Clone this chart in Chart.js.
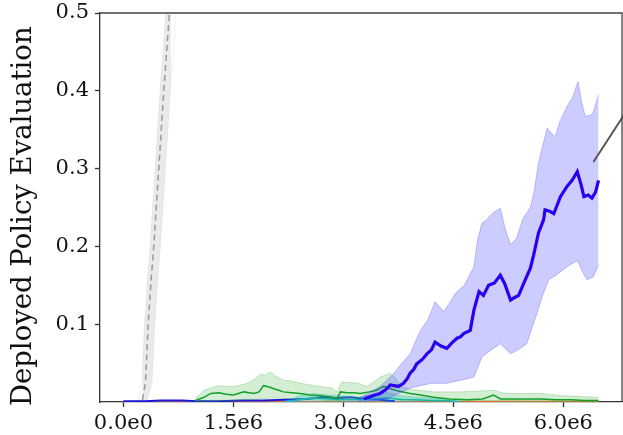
<!DOCTYPE html>
<html>
<head>
<meta charset="utf-8">
<script src="https://cdn.jsdelivr.net/npm/chart.js@4"></script>
<style>
  body { margin: 0; background: #fff; }
  #wrap { width: 623px; height: 435px; }
</style>
</head>
<body>
<div id="wrap"><canvas id="evalChart"></canvas></div>
<script>
// x values are in millions of steps
var xTicks = [0, 1.5, 3.0, 4.5, 6.0];
var yTicks = [0.1, 0.2, 0.3, 0.4, 0.5];

// gray dashed reference (rises out of the plot early)
var grayX = [0, 0.2, 0.255, 0.3, 0.337, 0.38, 0.414, 0.436, 0.482, 0.55, 0.627, 0.7];
var grayY = [0, 0, 0.001, 0.025, 0.1, 0.16, 0.2, 0.234, 0.3, 0.4, 0.5, 0.6];
var grayHiX = [0.15, 0.2, 0.25, 0.287, 0.33, 0.364, 0.386, 0.432, 0.5, 0.577, 0.65];
var grayHiY = [0, 0.001, 0.025, 0.1, 0.16, 0.2, 0.234, 0.3, 0.4, 0.5, 0.6];
var grayLoX = [0.26, 0.32, 0.39, 0.427, 0.47, 0.504, 0.526, 0.572, 0.64, 0.717, 0.79];
var grayLoY = [0, 0.001, 0.025, 0.1, 0.16, 0.2, 0.234, 0.3, 0.4, 0.5, 0.6];

// blue (main) run
var blueX = [3.28, 3.4, 3.5, 3.58, 3.64, 3.75, 3.82, 3.87, 3.91, 3.96, 4.0, 4.08, 4.14, 4.2, 4.25, 4.33, 4.41, 4.48, 4.55, 4.6, 4.64, 4.73, 4.78, 4.85, 4.91, 4.98, 5.06, 5.14, 5.2, 5.28, 5.33, 5.39, 5.48, 5.55, 5.59, 5.66, 5.73, 5.75, 5.82, 5.87, 5.96, 6.05, 6.12, 6.19, 6.24, 6.28, 6.34, 6.39, 6.44, 6.48];
var blueY = [0.004, 0.008, 0.011, 0.016, 0.022, 0.02, 0.024, 0.03, 0.037, 0.042, 0.049, 0.055, 0.062, 0.067, 0.077, 0.072, 0.069, 0.076, 0.082, 0.084, 0.088, 0.092, 0.118, 0.142, 0.137, 0.150, 0.153, 0.163, 0.152, 0.131, 0.134, 0.137, 0.157, 0.172, 0.187, 0.217, 0.234, 0.247, 0.245, 0.242, 0.264, 0.277, 0.285, 0.296, 0.28, 0.264, 0.266, 0.262, 0.27, 0.285];
var blueHiX = [3.2, 3.5, 3.69, 3.8, 3.91, 4.05, 4.15, 4.25, 4.37, 4.45, 4.53, 4.65, 4.78, 4.83, 4.89, 4.95, 5.05, 5.14, 5.2, 5.28, 5.36, 5.45, 5.55, 5.6, 5.66, 5.72, 5.78, 5.84, 5.89, 5.95, 6.05, 6.12, 6.2, 6.25, 6.3, 6.4, 6.48];
var blueHiY = [0.004, 0.02, 0.037, 0.05, 0.062, 0.092, 0.105, 0.129, 0.116, 0.128, 0.14, 0.15, 0.174, 0.208, 0.23, 0.234, 0.244, 0.249, 0.225, 0.202, 0.21, 0.236, 0.25, 0.27, 0.307, 0.33, 0.352, 0.345, 0.341, 0.36, 0.38, 0.39, 0.412, 0.385, 0.367, 0.37, 0.395];
var blueLoX = [3.2, 3.6, 3.91, 4.2, 4.41, 4.6, 4.78, 4.89, 5.0, 5.14, 5.28, 5.4, 5.5, 5.64, 5.72, 5.8, 5.9, 6.05, 6.19, 6.25, 6.32, 6.41, 6.48];
var blueLoY = [0, 0.004, 0.018, 0.024, 0.024, 0.028, 0.032, 0.058, 0.066, 0.075, 0.062, 0.068, 0.075, 0.114, 0.138, 0.157, 0.163, 0.174, 0.182, 0.17, 0.157, 0.161, 0.176];

// green run
var greenX = [0.98, 1.1, 1.19, 1.3, 1.4, 1.5, 1.64, 1.72, 1.78, 1.85, 1.91, 2.0, 2.05, 2.12, 2.18, 2.3, 2.41, 2.55, 2.7, 2.85, 2.91, 2.96, 3.05, 3.15, 3.23, 3.35, 3.45, 3.55, 3.64, 3.75, 3.91, 4.05, 4.23, 4.45, 4.69, 4.9, 5.05, 5.14, 5.4, 5.69, 5.9, 6.1, 6.3, 6.48];
var greenY = [0.002, 0.006, 0.011, 0.012, 0.01, 0.009, 0.013, 0.012, 0.011, 0.013, 0.021, 0.019, 0.017, 0.015, 0.013, 0.012, 0.011, 0.009, 0.008, 0.006, 0.004, 0.013, 0.012, 0.012, 0.011, 0.013, 0.015, 0.02, 0.017, 0.014, 0.011, 0.009, 0.006, 0.004, 0.003, 0.004, 0.009, 0.004, 0.004, 0.004, 0.003, 0.003, 0.002, 0.002];
var greenHiX = [0.98, 1.1, 1.28, 1.4, 1.5, 1.6, 1.69, 1.8, 1.87, 1.93, 2.0, 2.1, 2.18, 2.3, 2.41, 2.55, 2.68, 2.85, 2.91, 2.98, 3.1, 3.2, 3.32, 3.42, 3.5, 3.64, 3.72, 3.78, 3.95, 4.23, 4.6, 5.05, 5.2, 5.69, 6.0, 6.48];
var greenHiY = [0.005, 0.015, 0.021, 0.02, 0.02, 0.022, 0.024, 0.03, 0.036, 0.034, 0.039, 0.032, 0.028, 0.027, 0.024, 0.022, 0.02, 0.018, 0.013, 0.026, 0.025, 0.024, 0.02, 0.026, 0.032, 0.037, 0.03, 0.02, 0.016, 0.013, 0.013, 0.015, 0.011, 0.011, 0.008, 0.006];
var greenLoX = [0.98, 1.5, 2.0, 2.5, 2.9, 3.0, 3.5, 4.0, 4.5, 5.0, 5.5, 6.0, 6.48];
var greenLoY = [0, 0.002, 0.005, 0.004, 0.001, 0.003, 0.005, 0.002, 0.001, 0.002, 0.001, 0.001, 0];

// small runs that stay near zero
var cyanX = [2.2, 2.4, 2.6, 2.8, 3.0, 3.2, 3.4, 3.6, 3.8, 4.0, 4.2, 4.4, 4.6];
var cyanHiY = [0, 0.008, 0.011, 0.009, 0.008, 0.006, 0.01, 0.012, 0.008, 0.006, 0.005, 0.004, 0];
var cyanY = [0, 0.003, 0.005, 0.004, 0.003, 0.003, 0.004, 0.005, 0.003, 0.003, 0.002, 0.002, 0];
var navyX = [0, 0.3, 0.5, 0.8, 1.0, 1.3, 1.6, 1.9, 2.2, 2.5, 2.7, 2.9, 3.1, 3.3, 3.5, 3.7];
var navyY = [0.001, 0.001, 0.002, 0.002, 0.001, 0.001, 0.002, 0.002, 0.003, 0.004, 0.006, 0.005, 0.006, 0.004, 0.003, 0.001];
var orangeX = [0, 1.0, 2.0, 3.0, 4.0, 5.0, 6.48];
var orangeY = [0.0005, 0.0008, 0.0005, 0.0007, 0.0005, 0.0008, 0.0006];

// pointer line at the right edge
var pointerX = [6.41, 6.82];
var pointerY = [0.3085, 0.368];

function pts(xs, ys) {
    return xs.map(function (x, i) { return {x: x * 1e6, y: ys[i]}; });
}

function line(data, color, width, extra) {
    var ds = {
        data: data,
        borderColor: color,
        borderWidth: width,
        pointRadius: 0,
        tension: 0,
        fill: false
    };
    for (var k in extra) ds[k] = extra[k];
    return ds;
}

var serif = "'DejaVu Serif', serif";

var datasets = [
    line(pts(pointerX, pointerY), '#555555', 2, {clip: false}),
    line(pts(blueX, blueY), '#2a00f0', 3.2),
    line(pts(blueHiX, blueHiY), 'rgba(90,90,255,0.35)', 1, {fill: '+1', backgroundColor: 'rgba(40,40,255,0.24)'}),
    line(pts(blueLoX, blueLoY), 'rgba(90,90,255,0.35)', 1),
    line(pts(greenX, greenY), '#12a02a', 1.5),
    line(pts(greenHiX, greenHiY), 'rgba(40,170,40,0.25)', 1, {fill: '+1', backgroundColor: 'rgba(40,170,40,0.2)'}),
    line(pts(greenLoX, greenLoY), 'rgba(40,170,40,0.25)', 1),
    line(pts(cyanX, cyanY), '#17becf', 1.5),
    line(pts(cyanX, cyanHiY), 'rgba(23,190,207,0.3)', 1, {fill: 'origin', backgroundColor: 'rgba(23,190,207,0.3)'}),
    line(pts(navyX, navyY), '#1818e0', 2),
    line(pts(orangeX, orangeY), '#e0702a', 1.5),
    line(pts(grayX, grayY), '#999999', 1.5, {borderDash: [6, 4]}),
    line(pts(grayHiX, grayHiY), 'rgba(160,160,160,0.15)', 1, {fill: '+1', backgroundColor: 'rgba(160,160,160,0.22)'}),
    line(pts(grayLoX, grayLoY), 'rgba(160,160,160,0.15)', 1)
];

// top and right spines
var boxPlugin = {
    id: 'box',
    afterDraw: function (chart) {
        var a = chart.chartArea, c = chart.ctx;
        c.save();
        c.strokeStyle = '#444';
        c.lineWidth = 1.3;
        c.beginPath();
        c.moveTo(a.left, a.top);
        c.lineTo(a.right, a.top);
        c.lineTo(a.right, a.bottom);
        c.stroke();
        c.restore();
    }
};

var ctx = document.getElementById("evalChart").getContext("2d");
new Chart(ctx, {
    type: 'line',
    data: {datasets: datasets},
    plugins: [boxPlugin],
    options: {
        responsive: true,
        maintainAspectRatio: false,
        animation: false,
        layout: {padding: {top: 13, right: 1, left: 0, bottom: 0}},
        plugins: {legend: {display: false}, tooltip: {enabled: false}},
        scales: {
            x: {
                type: 'linear',
                min: -0.32e6,
                max: 6.8e6,
                afterBuildTicks: function (s) {
                    s.ticks = xTicks.map(function (v) { return {value: v * 1e6}; });
                },
                afterFit: function (s) { s.height = 33; },
                ticks: {
                    color: '#111',
                    padding: 4,
                    maxRotation: 0,
                    font: {family: serif, size: 21},
                    callback: function (v) {
                        return v === 0 ? '0.0e0' : (v / 1e6).toFixed(1) + 'e6';
                    }
                },
                grid: {drawOnChartArea: false, tickLength: 5, tickColor: '#333', tickWidth: 1.3},
                border: {color: '#333', width: 1.3}
            },
            y: {
                min: 0,
                max: 0.5,
                afterBuildTicks: function (s) {
                    s.ticks = yTicks.map(function (v) { return {value: v}; });
                },
                afterFit: function (s) { s.width = 100; s.paddingTop = 0; },
                ticks: {
                    color: '#111',
                    padding: 6,
                    font: {family: serif, size: 21, lineHeight: 0.8},
                    callback: function (v) { return v.toFixed(1); }
                },
                grid: {drawOnChartArea: false, tickLength: 5, tickColor: '#333', tickWidth: 1.3},
                border: {color: '#333', width: 1.3},
                title: {
                    display: true,
                    // two trailing spaces nudge the centred label slightly downward
                    text: 'Deployed Policy Evaluation  ',
                    color: '#111',
                    padding: {top: 7, bottom: 0},
                    font: {family: serif, size: 27.5, lineHeight: 1.2}
                }
            }
        }
    }
});
</script>
</body>
</html>
